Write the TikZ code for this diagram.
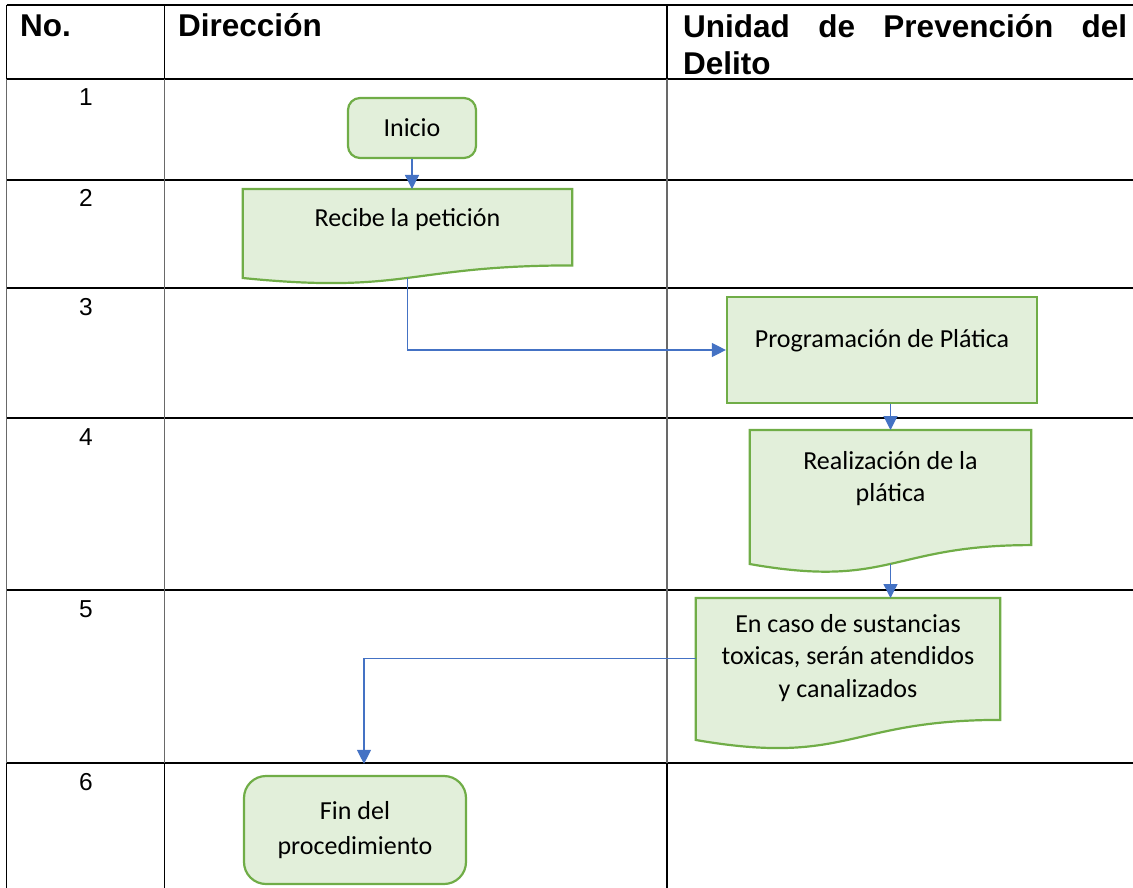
\documentclass[tikz,border=0pt]{standalone}
\usepackage{fontspec}
\setmainfont{Carlito}
\newfontfamily\arialfont{Liberation Sans}
\usetikzlibrary{shapes,arrows.meta,positioning,calc,backgrounds}
\definecolor{boxfill}{RGB}{226,239,218}
\definecolor{boxline}{RGB}{112,173,71}
\definecolor{flowcolor}{RGB}{68,114,196}
\definecolor{rulegray}{RGB}{105,105,105}
\hyphenpenalty=10000
\tolerance=10000

% document shape behind a node: #1 node name, #2 full height of the shape
\newcommand{\docshape}[2]{%
  \begin{pgfonlayer}{background}
  \draw[docline] (#1.north west) -- (#1.north east)
    -- ($(#1.north east)+(0,0.802*#2)$)
    .. controls ($(#1.north)+(0,0.802*#2)$) and ($(#1.north)+(0,1.1075*#2)$)
    .. ($(#1.north west)+(0,0.934*#2)$) -- cycle;
  \end{pgfonlayer}}

\begin{document}
\begin{tikzpicture}[
    x=1pt, y=-1pt,
    hrule/.style={line width=2.2pt},
    vrule/.style={line width=1.4pt},
    boxtext/.style={font=\fontsize{26}{32}\selectfont, align=center},
    startstop/.style={boxtext, rectangle, rounded corners=12pt, draw=boxline, fill=boxfill, line width=2.2pt},
    process/.style={boxtext, rectangle, draw=boxline, fill=boxfill, line width=2.2pt},
    docbox/.style={boxtext, rectangle, anchor=north, inner sep=0pt},
    docline/.style={draw=boxline, fill=boxfill, line width=2.2pt},
    flow/.style={-{Triangle[length=14pt,width=14pt]}, draw=flowcolor, line width=1.3pt},
    rownum/.style={font=\arialfont\fontsize{24.5}{29}\selectfont, anchor=base, inner sep=0pt},
    header/.style={font=\arialfont\bfseries\fontsize{31.5}{37}\selectfont, inner sep=0pt}
]
\useasboundingbox (0,0) rectangle (1133,888);

% table rules
\foreach \y in {5,79,180,288,418,590,763}
    \draw[hrule] (6.5,\y) -- (1133,\y);
\foreach \x in {6.5,164.5,667} {
    \draw[vrule] (\x,5) -- (\x,79);
    \draw[vrule, rulegray] (\x,79) -- (\x,763);
    \draw[vrule] (\x,763) -- (\x,888);
}

% header
\node[header, anchor=base west] (colno) at (20,37) {No.};
\node[header, anchor=base west] (coldir) at (178,37) {Dirección};
\node[header, anchor=north west, text width=444pt, align=justify] (coludp) at (683,14) {Unidad de Prevención del Delito};

% row numbers
\foreach \n/\y in {1/79,2/180,3/288,4/418,5/590,6/763}
    \node[rownum] (num\n) at (86,\y+27) {\n};

% flow nodes
\node[startstop, minimum width=128pt, minimum height=60pt] (ini) at (412,128) {Inicio};
\node[docbox, minimum width=329pt, minimum height=89pt, text depth=32.5pt] (rec) at (407.5,189) {Recibe la petición};
\node[process, minimum width=310pt, minimum height=106pt, text depth=24pt] (prog) at (882,350) {Programación de Plática};
\node[docbox, minimum width=281pt, minimum height=134pt, text depth=41.5pt] (real) at (890.5,430) {Realización de la\\plática};
\node[docbox, minimum width=304pt, minimum height=142pt, text depth=26.5pt, font=\fontsize{26}{32.5}\selectfont] (caso) at (848,598) {En caso de sustancias\\toxicas, serán atendidos\\y canalizados};
\node[startstop, rounded corners=22pt, minimum width=222pt, minimum height=108pt, font=\fontsize{26}{35}\selectfont] (fin) at (355,830) {Fin del\\procedimiento};

\docshape{rec}{95.3}
\docshape{real}{143.5}
\docshape{caso}{152}

% connectors
\draw[flow] (ini.south) -- (ini.south |- rec.north);
\draw[flow] (rec.south) |- (prog.west);
\draw[flow] (real.north |- prog.south) -- (real.north);
\draw[flow] (real.south) -- (real.south |- caso.north);
\draw[flow, shorten >=11pt] ([yshift=11pt]caso.west) -| ([xshift=9pt]fin.north);

\end{tikzpicture}
\end{document}
